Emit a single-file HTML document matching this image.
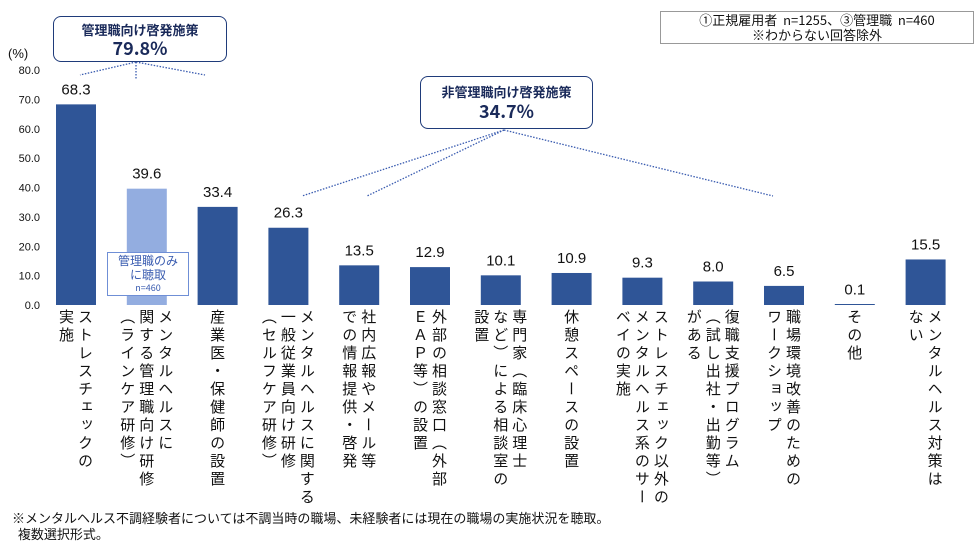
<!DOCTYPE html>
<html><head><meta charset="utf-8"><style>
body{margin:0;background:#fff;}
#root{position:relative;width:980px;height:550px;overflow:hidden;font-family:"Liberation Sans","Noto Sans CJK JP",sans-serif;color:#111;}
.lbl{position:absolute;top:309px;writing-mode:vertical-rl;font-size:15px;line-height:19px;letter-spacing:3.0px;white-space:pre;font-family:"Noto Sans CJK JP",sans-serif;}
</style></head><body>
<div id="root">
<svg id="svg" width="980" height="550" style="position:absolute;left:0;top:0"></svg>
<div id="labels"></div>
<div style="position:absolute;left:660px;top:11px;width:312px;height:31px;border:1px solid #999;font-size:13px;line-height:15px;text-align:center;font-family:'Noto Sans CJK JP',sans-serif;">①正規雇用者&nbsp; n=1255、③管理職&nbsp; n=460<br>※わからない回答除外</div>
<div style="position:absolute;left:53px;top:16px;width:172px;height:44px;border:1.5px solid #1f3b7a;border-radius:8px;text-align:center;color:#1a2a5a;font-family:'Noto Sans CJK JP',sans-serif;"><div style="font-size:13px;font-weight:bold;line-height:17px;margin-top:4px">管理職向け啓発施策</div><div style="font-size:18px;font-weight:bold;line-height:20px">79.8%</div></div>
<div style="position:absolute;left:420px;top:76px;width:171px;height:51px;border:1.5px solid #1f3b7a;border-radius:8px;text-align:center;color:#1a2a5a;font-family:'Noto Sans CJK JP',sans-serif;"><div style="font-size:13px;font-weight:bold;line-height:17px;margin-top:6px">非管理職向け啓発施策</div><div style="font-size:18px;font-weight:bold;line-height:22px">34.7%</div></div>
<div style="position:absolute;left:107px;top:252px;width:80px;height:42px;background:#fff;border:1px solid #6f8fd6;text-align:center;color:#3a5cb0;font-family:'Noto Sans CJK JP',sans-serif;font-size:12px;line-height:14px;"><div style="margin-top:1px">管理職のみ<br>に聴取</div><div style="font-size:9px;line-height:11px">n=460</div></div>
<div style="position:absolute;left:12px;top:510px;font-size:13px;line-height:16px;font-family:'Noto Sans CJK JP',sans-serif;">※メンタルヘルス不調経験者については不調当時の職場、未経験者には現在の職場の実施状況を聴取。<br>&nbsp; 複数選択形式。</div>
</div>
<script>
const categories=["ストレスチェックの\n実施","メンタルヘルスに\n関する管理職向け研修\n（ラインケア研修）","産業医・保健師の設置","メンタルヘルスに関する\n一般従業員向け研修\n（セルフケア研修）","社内広報やメール等\nでの情報提供・啓発","外部の相談窓口（外部\nＥＡＰ等）の設置","専門家（臨床心理士\nなど）による相談室の\n設置","休憩スペースの設置","ストレスチェック以外の\nメンタルヘルス系のサー\nベイの実施","復職支援プログラム\n（試し出社・出勤等）\nがある","職場環境改善のための\nワークショップ","その他","メンタルヘルス対策は\nない"];
const values=[68.3,39.6,33.4,26.3,13.5,12.9,10.1,10.9,9.3,8.0,6.5,0.1,15.5];
const highlight=[false,true,false,false,false,false,false,false,false,false,false,false,false];
const yTicks=[0,10,20,30,40,50,60,70,80];
const NS="http://www.w3.org/2000/svg";
const svg=document.getElementById('svg');
const y0=305,yTop=70,yMax=80;
function yScale(v){return y0-(v/yMax)*(y0-yTop);}
function xScale(i){return 76+i*70.8;}
const bw=40;
function mk(tag,attrs){const e=document.createElementNS(NS,tag);for(const k in attrs)e.setAttribute(k,attrs[k]);svg.appendChild(e);return e;}
const yt=mk('text',{x:8,y:58,'font-size':13,fill:'#111'});yt.textContent='(%)';


yTicks.forEach(t=>{const e=mk('text',{x:40,y:yScale(t)+4,'font-size':11,'text-anchor':'end',fill:'#111'});e.textContent=t.toFixed(1);

});
values.forEach((v,i)=>{
 const top=yScale(v);const h=Math.max(y0-top,1);
 const r=mk('rect',{x:xScale(i)-bw/2,y:y0-h,width:bw,height:h,fill:highlight[i]?'#93ade0':'#2f5597'});
 
 
 const t=mk('text',{x:xScale(i),y:top-10,'font-size':15,'text-anchor':'middle',fill:'#111'});t.textContent=v.toFixed(1);
 
 
 const d=document.createElement('div');d.className='lbl';d.textContent=categories[i];
 
 
 document.getElementById('labels').appendChild(d);
 const w=d.offsetWidth;d.style.left=(xScale(i)-w/2)+'px';
});
const lines=[[136,62,80,75],[136,62,136,80],[136,62,205,75],[504,130,302,196],[504,130,367,196],[504,130,773,196]];
lines.forEach(l=>{const e=mk('line',{x1:l[0],y1:l[1],x2:l[2],y2:l[3],stroke:'#3a5cb0','stroke-width':1.3,'stroke-dasharray':'1.5,1.5'});

});
</script>
</body></html>
